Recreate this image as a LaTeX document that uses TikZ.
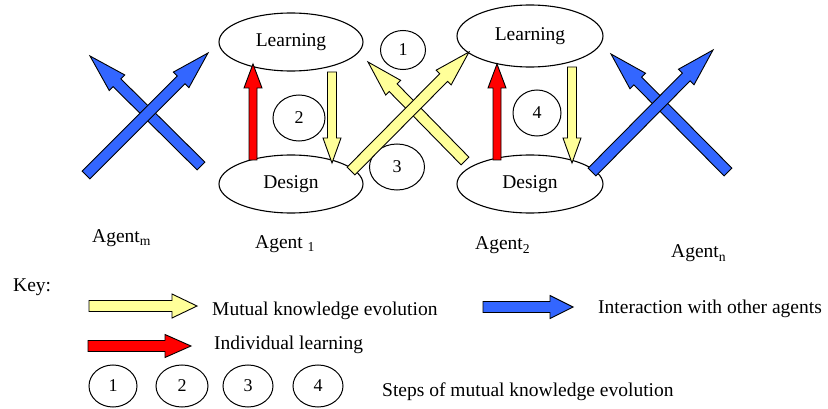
\documentclass[tikz,border=0pt]{standalone}
\usepackage{fontspec}
\setmainfont{Liberation Serif}
\usetikzlibrary{calc,shapes.geometric}
\definecolor{ayellow}{HTML}{FFFF99}
\definecolor{ared}{HTML}{FF0000}
\definecolor{ablue}{HTML}{3366FF}
% #1 style, #2 start, #3 tip, #4 shaft half width, #5 head half width, #6 head length
\newcommand\blockarrow[6]{%
  \coordinate (hb) at ($(#3)!#6!(#2)$);
  \filldraw[#1] ($(#2)!#4!90:(#3)$) -- ($(hb)!#4!-90:(#2)$) -- ($(hb)!#5!-90:(#2)$) -- (#3)
    -- ($(hb)!#5!90:(#2)$) -- ($(hb)!#4!90:(#2)$) -- ($(#2)!#4!-90:(#3)$) -- cycle;}
\begin{document}
\begin{tikzpicture}[x=1pt,y=-1pt,
  every node/.style={font=\fontsize{19.5}{23}\selectfont},
  oval/.style={ellipse,draw,line width=1.1pt,inner sep=0pt},
  num/.style={ellipse,draw,line width=1pt,inner sep=0pt,font=\fontsize{18}{21}\selectfont},
  yarrow/.style={fill=ayellow,draw=black,line width=0.9pt,line join=miter},
  rarrow/.style={fill=ared,draw=black,line width=0.9pt,line join=miter},
  barrow/.style={fill=ablue,draw=black,line width=0.9pt,line join=miter},
  lbl/.style={anchor=base west,inner sep=0pt}]
\useasboundingbox (0,0) rectangle (828,409);
% agent ellipses
\node[oval,minimum width=144pt,minimum height=58pt] (l1) at (291,42) {Learning};
\node[oval,minimum width=144pt,minimum height=58pt] (d1) at (291,184) {Design};
\node[oval,minimum width=146pt,minimum height=62pt] (l2) at (530,36) {Learning};
\node[oval,minimum width=146pt,minimum height=58pt] (d2) at (530,184) {Design};
% step circles
\node[num,minimum width=45pt,minimum height=39pt] (s1) at (403,50) {1};
\node[num,minimum width=52pt,minimum height=46pt] (s2) at (299,118) {2};
\node[num,minimum width=55pt,minimum height=46pt] (s3) at (397,167) {3};
\node[num,minimum width=48pt,minimum height=46pt] (s4) at (537,113) {4};
% agent labels
\node[lbl] (am) at (92,242) {Agent\textsubscript{m}};
\node[lbl] (a1) at (255,248) {Agent \textsubscript{1}};
\node[lbl] (a2) at (475,250) {Agent\textsubscript{2}};
\node[lbl] (an) at (671,258) {Agent\textsubscript{n}};
% arrow end points
\coordinate (r1s) at (253,160); \coordinate (r1e) at (253,64);
\coordinate (y2s) at (332,72);  \coordinate (y2e) at (332,163);
\coordinate (r2s) at (497,160); \coordinate (r2e) at (497,64);
\coordinate (y4s) at (572,67);  \coordinate (y4e) at (572,163);
\coordinate (bmas) at (86,175);  \coordinate (bmae) at (208,53);
\coordinate (bmbs) at (201,166); \coordinate (bmbe) at (90,56);
\coordinate (yas) at (351,171);  \coordinate (yae) at (469,52);
\coordinate (ybs) at (465,161);  \coordinate (ybe) at (368,62);
\coordinate (bnas) at (592,172); \coordinate (bnae) at (713,50);
\coordinate (bnbs) at (728,172); \coordinate (bnbe) at (611,54);
% vertical arrows
\blockarrow{rarrow}{r1s}{r1e}{4pt}{9pt}{24pt}
\blockarrow{yarrow}{y2s}{y2e}{4.5pt}{9pt}{25pt}
\blockarrow{rarrow}{r2s}{r2e}{4pt}{9pt}{24pt}
\blockarrow{yarrow}{y4s}{y4e}{4.5pt}{9pt}{25pt}
% crossing arrows
\blockarrow{barrow}{bmbs}{bmbe}{5.5pt}{11pt}{38pt}
\blockarrow{barrow}{bmas}{bmae}{5.5pt}{11pt}{38pt}
\blockarrow{yarrow}{ybs}{ybe}{5.5pt}{10.5pt}{36pt}
\blockarrow{yarrow}{yas}{yae}{5.5pt}{10.5pt}{36pt}
\blockarrow{barrow}{bnbs}{bnbe}{5.5pt}{11pt}{38pt}
\blockarrow{barrow}{bnas}{bnae}{5.5pt}{11pt}{38pt}
% key
\node[lbl] (key) at (13,291) {Key:};
\coordinate (kys) at (89,306);  \coordinate (kye) at (197,306);
\coordinate (krs) at (88,346);  \coordinate (kre) at (191,346);
\coordinate (kbs) at (483,307); \coordinate (kbe) at (573,307);
\blockarrow{yarrow}{kys}{kye}{5.5pt}{12pt}{25pt}
\blockarrow{rarrow}{krs}{kre}{5.5pt}{11.5pt}{26pt}
\blockarrow{barrow}{kbs}{kbe}{5.5pt}{11.5pt}{23pt}
\node[lbl] (tm) at (212,315) {Mutual knowledge evolution};
\node[lbl] (ti) at (214,349) {Individual learning};
\node[lbl] (tb) at (598,313) {Interaction with other agents};
\node[num,minimum width=48pt,minimum height=42pt] (k1) at (113,386) {1};
\node[num,minimum width=52pt,minimum height=42pt] (k2) at (182,386) {2};
\node[num,minimum width=50pt,minimum height=42pt] (k3) at (248,386) {3};
\node[num,minimum width=50pt,minimum height=42pt] (k4) at (318,386) {4};
\node[lbl] (ts) at (382,396) {Steps of mutual knowledge evolution};
\end{tikzpicture}
\end{document}
